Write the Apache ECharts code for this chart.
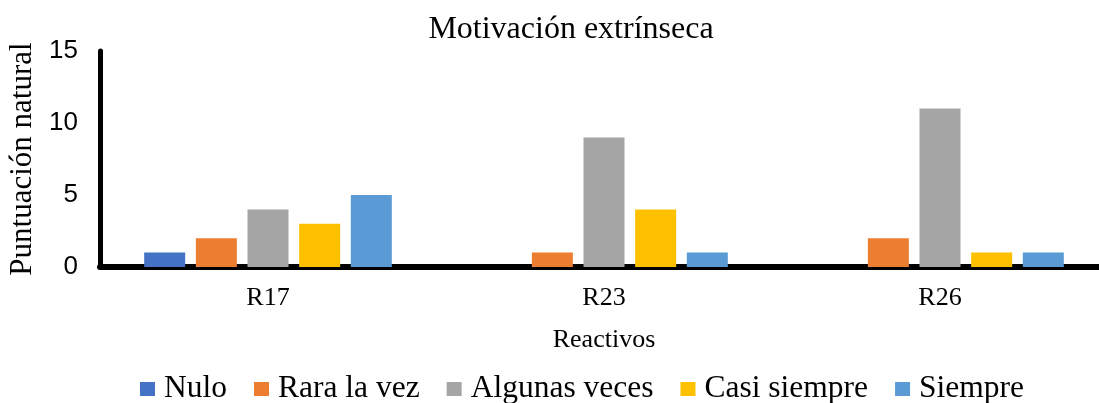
<!DOCTYPE html>
<html>
<head>
<meta charset="utf-8">
<script src="https://cdn.jsdelivr.net/npm/echarts@6/dist/echarts.min.js"></script>
<style>
  html, body { margin: 0; padding: 0; background: #fff; }
  #main { width: 1099px; height: 403px; }
</style>
</head>
<body>
<div id="main"></div>
<script>
"use strict";

var categories = ['R17', 'R23', 'R26'];
var seriesNames = ['Nulo', 'Rara la vez', 'Algunas veces', 'Casi siempre', 'Siempre'];
var nulo = [1, 0, 0];
var raraLaVez = [2, 1, 2];
var algunasVeces = [4, 9, 11];
var casiSiempre = [3, 4, 1];
var siempre = [5, 1, 1];
var yTicks = [0, 5, 10, 15];

var colors = ['#4472C4', '#ED7D31', '#A5A5A5', '#FFC000', '#5B9BD5'];
var values = [nulo, raraLaVez, algunasVeces, casiSiempre, siempre];

var serif = 'Liberation Serif';

var chart = echarts.init(document.getElementById('main'));
var option = {
	animation: false,
	color: colors,
	textStyle: {
		fontFamily: serif,
		color: '#000'
	},
	title: {
		text: 'Motivación extrínseca',
		left: 566,
		top: 9,
		textAlign: 'center',
		textStyle: {
			fontFamily: serif,
			fontSize: 32,
			fontWeight: 'normal',
			color: '#000'
		}
	},
	grid: {
		top: 51,
		bottom: 136,
		left: 100,
		right: -9,
		outerBoundsMode: 'none',
		containLabel: false
	},
	legend: {
		data: seriesNames,
		top: 373,
		left: 140,
		padding: 0,
		icon: 'rect',
		itemWidth: 15,
		itemHeight: 14,
		itemGap: 27,
		textStyle: {
			fontFamily: serif,
			fontSize: 31.5,
			color: '#000',
			padding: [0, 0, 0, 4]
		}
	},
	xAxis: {
		type: 'category',
		data: categories,
		name: 'Reactivos',
		nameLocation: 'middle',
		nameGap: 60,
		nameTextStyle: {
			fontFamily: serif,
			fontSize: 26,
			color: '#000'
		},
		axisLine: {
			lineStyle: { color: '#000', width: 6 }
		},
		axisTick: { show: false },
		axisLabel: {
			margin: 18,
			fontFamily: serif,
			fontSize: 26,
			color: '#000'
		}
	},
	yAxis: {
		type: 'value',
		min: yTicks[0],
		max: yTicks[yTicks.length - 1],
		interval: 5,
		name: 'Puntuación natural',
		nameLocation: 'middle',
		nameGap: 61,
		nameTextStyle: {
			fontFamily: serif,
			fontSize: 31,
			color: '#000'
		},
		axisLine: {
			show: true,
			lineStyle: { color: '#000', width: 5 }
		},
		axisTick: { show: false },
		splitLine: { show: false },
		axisLabel: {
			margin: 22,
			fontFamily: 'Liberation Sans',
			fontSize: 26,
			color: '#000'
		}
	},
	series: seriesNames.map(function (name, i) {
		return {
			name: name,
			type: 'bar',
			data: values[i],
			barWidth: 41,
			barGap: '26%'
		};
	})
};
chart.setOption(option);
window.addEventListener('resize', function () {
	chart.resize();
});
</script>
</body>
</html>
